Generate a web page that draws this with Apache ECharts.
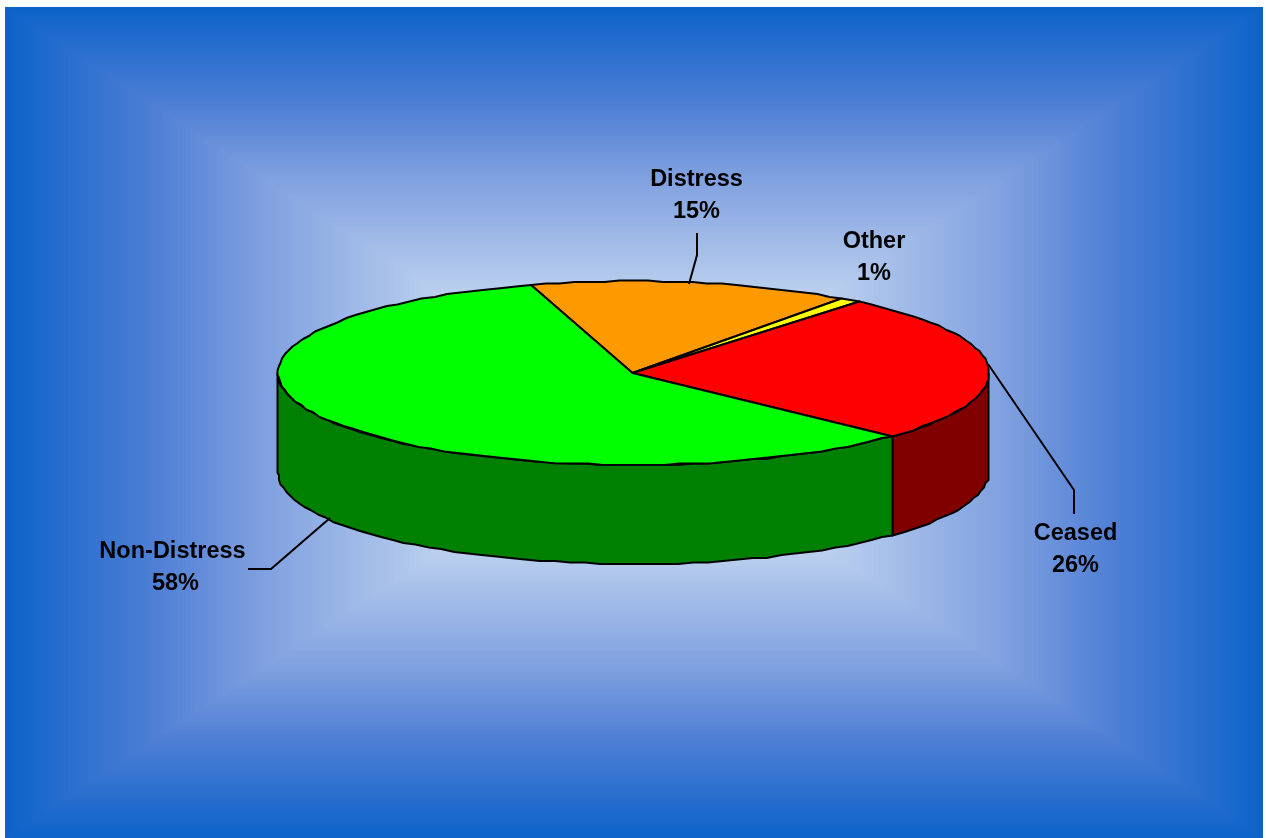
<!DOCTYPE html>
<html>
<head>
<meta charset="utf-8">
<style>html,body{margin:0;padding:0;background:#fff}#c{width:1266px;height:838px}</style>
<script src="https://cdn.jsdelivr.net/npm/echarts@6/dist/echarts.min.js"></script>
</head>
<body>
<div id="c"></div>
<script>
const categories = ['Distress', 'Other', 'Ceased', 'Non-Distress'];
const shares = [14.6, 1.0, 26.0, 58.4];
const topColors = ['#ff9900', '#ffff00', '#ff0000', '#00ff00'];
const sideColors = ['#804c00', '#808000', '#800000', '#008000'];

const startAngle = 343.3;
const pie = { cx: 633.5, cy: 373, rx: 355.5, ry: 92, depth: 99 };
const bg = { x0: 5, y0: 7, x1: 1263, y1: 838 };
const labelLayout = [
  { x: 696.5, y: 180, leader: [[697, 233], [697, 255], [689, 284]] },
  { x: 874, y: 242, leader: null },
  { x: 1075.5, y: 534, leader: [[988, 364], [1074, 490], [1074, 514]] },
  { x: 172.5, y: 552, leader: [[330, 518], [271, 569], [248, 569]] }
];
const bandStops = [
  [0, [13, 99, 201]], [0.235, [79, 127, 213]], [0.4, [126, 159, 223]],
  [0.7, [190, 210, 239]], [1, [208, 224, 245]]
];

const total = shares.reduce((a, b) => a + b, 0);
const rad = d => d * Math.PI / 180;
const snap = v => Math.round(v / 1.5) * 1.5;
function rim(t, dy) {
  return [snap(pie.cx + pie.rx * Math.sin(rad(t))), snap(pie.cy - pie.ry * Math.cos(rad(t))) + (dy || 0)];
}
function arc(a, b, dy) {
  const pts = [];
  const n = Math.max(2, Math.ceil(Math.abs(b - a) / 2.5));
  for (let i = 0; i <= n; i++) pts.push(rim(a + (b - a) * i / n, dy));
  return pts;
}
const lineStyle = { stroke: '#000', lineWidth: 2, lineJoin: 'round' };

function renderSlice(params, api) {
  const i = params.dataIndex;
  let before = 0;
  for (let k = 0; k < i; k++) before += shares[k];
  const a = startAngle + before / total * 360;
  const b = a + api.value(0) / total * 360;
  const children = [];

  // visible part of the outer wall: the front half, 90..270 degrees, modulo the turn
  for (const shift of [0, 360]) {
    const lo = Math.max(a, 90 + shift), hi = Math.min(b, 270 + shift);
    if (hi > lo) {
      children.push({
        type: 'polygon', z2: 1,
        shape: { points: arc(lo, hi, 0).concat(arc(hi, lo, pie.depth)) },
        style: Object.assign({ fill: sideColors[i] }, lineStyle)
      });
    }
  }
  // top face
  children.push({
    type: 'polygon', z2: 2,
    shape: { points: [[pie.cx - 1, pie.cy]].concat(arc(a, b, 0)) },
    style: Object.assign({ fill: topColors[i] }, lineStyle)
  });
  // label and leader
  const lay = labelLayout[i];
  if (lay.leader) {
    children.push({
      type: 'polyline', z2: 3,
      shape: { points: lay.leader },
      style: { stroke: '#000', lineWidth: 2, fill: null }
    });
  }
  const font = { fontFamily: '"Liberation Sans", Arial, sans-serif', fontWeight: 'bold', fontSize: 23.5, fill: '#000', align: 'center', verticalAlign: 'middle' };
  children.push({ type: 'text', z2: 3, x: lay.x, y: lay.y, style: Object.assign({ text: categories[i] }, font) });
  children.push({ type: 'text', z2: 3, x: lay.x + (i === 3 ? 3 : 0), y: lay.y + 32, style: Object.assign({ text: Math.round(api.value(0)) + '%' }, font) });
  return { type: 'group', children };
}

// Backdrop: concentric rectangles shading from the edge colour to the centre colour.
function bandColor(f) {
  let k = 0;
  while (k < bandStops.length - 2 && f > bandStops[k + 1][0]) k++;
  const [f0, c0] = bandStops[k], [f1, c1] = bandStops[k + 1];
  const u = (f - f0) / (f1 - f0);
  return 'rgb(' + c0.map((c, j) => Math.round(c + (c1[j] - c) * u)).join(',') + ')';
}
const bandCount = 160;
const backdrop = [];
for (let n = 0; n < bandCount; n++) {
  const f = n / bandCount;
  const hw = (bg.x1 - bg.x0) / 2, hh = (bg.y1 - bg.y0) / 2;
  backdrop.push({
    type: 'rect', silent: true, z: n,
    shape: { x: bg.x0 + hw * f, y: bg.y0 + hh * f, width: 2 * hw * (1 - f), height: 2 * hh * (1 - f) },
    style: { fill: bandColor(f) }
  });
}

const chart = echarts.init(document.getElementById('c'), null, { renderer: 'canvas' });
chart.setOption({
  animation: false,
  graphic: { elements: backdrop },
  series: [{
    type: 'custom',
    coordinateSystem: 'none',
    silent: true,
    z: 1000,
    data: shares.map(v => [v]),
    renderItem: renderSlice
  }]
});
</script>
</body>
</html>
